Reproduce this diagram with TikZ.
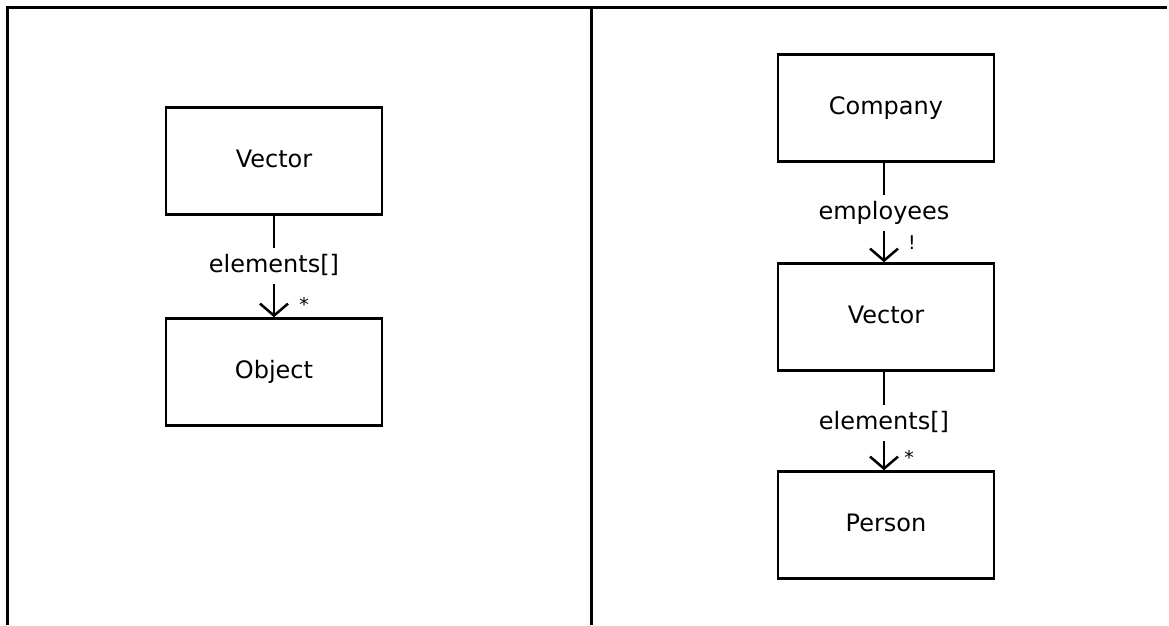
\documentclass[tikz,border=0pt]{standalone}
\usepackage{fontspec}
\setmainfont{DejaVu Sans}
\usetikzlibrary{arrows.meta}
\tikzset{
  cls/.style={draw, line width=2.5pt, minimum width=216pt, minimum height=107pt, inner sep=0pt, font=\fontsize{24}{27}\selectfont, text height=17pt, text depth=5pt},
  role/.style={inner sep=0pt, minimum height=36pt, font=\fontsize{24}{27}\selectfont, text height=17pt, text depth=5pt},
  mult/.style={inner sep=0pt, font=\fontsize{19}{21}\selectfont},
  conn/.style={line width=2.5pt},
  arr/.style={line width=2.5pt, -{Straight Barb[length=12pt,width=28pt,line width=2.5pt]}},
  frame/.style={line width=3pt}
}
\begin{document}
\begin{tikzpicture}[x=1pt,y=-1pt]
\useasboundingbox (0,0) rectangle (1169,625);
% frame
\coordinate (fbl) at (7,625);
\coordinate (ftl) at (7,7);
\coordinate (ftr) at (1167,7);
\coordinate (dtop) at (591,7);
\coordinate (dbot) at (591,625);
\draw[frame] (fbl) -- (ftl) -- (ftr);
\draw[frame] (dtop) -- (dbot);
% left panel
\node[cls] (vec1) at (274,161) {Vector};
\node[role] (el1) at (274,266) {elements[]};
\node[cls] (obj) at (274,372) {Object};
\node[mult] (st1) at (304,304) {*};
\draw[conn] (vec1.south) -- (el1.north);
\draw[arr] (el1.south) -- (obj.north);
% right panel
\node[cls] (comp) at (886,108) {Company};
\node[role] (emp) at (884,213) {employees};
\node[cls] (vec2) at (886,317) {Vector};
\node[role] (el2) at (884,423) {elements[]};
\node[cls] (pers) at (886,525) {Person};
\node[mult] (ex) at (912,243) {!};
\node[mult] (st2) at (909,457) {*};
\draw[conn] (comp.south -| emp) -- (emp.north);
\draw[arr] (emp.south) -- (emp.south |- vec2.north);
\draw[conn] (vec2.south -| el2) -- (el2.north);
\draw[arr] (el2.south) -- (el2.south |- pers.north);
\end{tikzpicture}
\end{document}
